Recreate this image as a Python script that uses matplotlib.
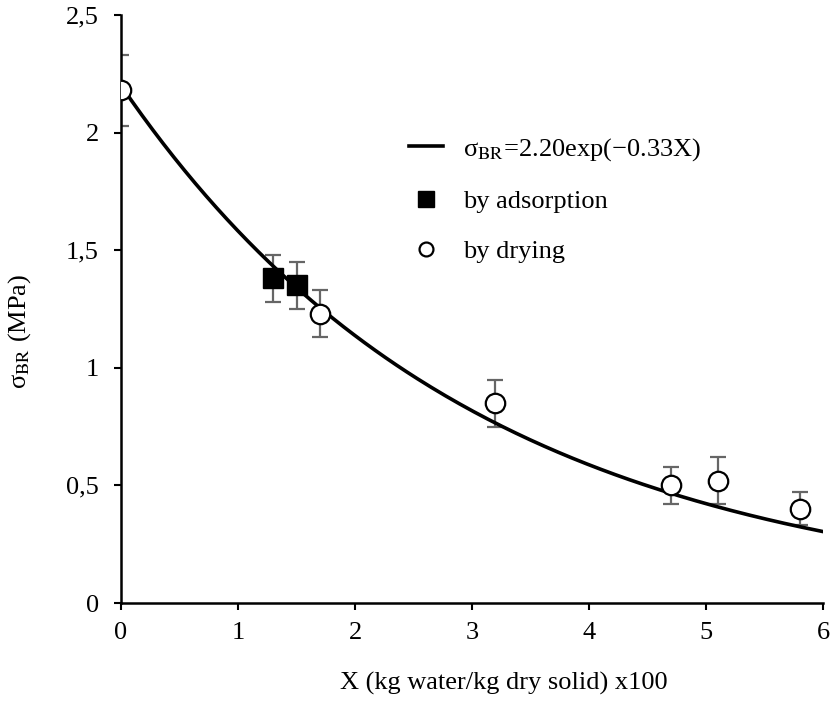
import numpy as np
import matplotlib
matplotlib.use("Agg")
import matplotlib.pyplot as plt
from matplotlib.ticker import FuncFormatter

plt.rcParams['font.family'] = ['Liberation Serif', 'DejaVu Serif']
plt.rcParams['mathtext.fontset'] = 'stix'

# dados
x_drying = [0.0, 1.7, 3.2, 4.7, 5.1, 5.8]
y_drying = [2.18, 1.23, 0.85, 0.50, 0.52, 0.40]
err_drying = [0.15, 0.10, 0.10, 0.08, 0.10, 0.07]

x_ads = [1.3, 1.5]
y_ads = [1.38, 1.35]
err_ads = [0.10, 0.10]

a_fit = 2.20
b_fit = 0.33

fig = plt.figure(figsize=(8.33, 7.03), dpi=100)
ax = fig.add_axes([0.1453, 0.1422, 0.8427, 0.8365])

xs = np.linspace(0, 6, 200)
ax.plot(xs, a_fit * np.exp(-b_fit * xs), color='black', lw=2.6, zorder=2,
        label='σ$_{\\mathrm{BR}}$=2.20exp(−0.33X)')

ax.errorbar(x_ads, y_ads, yerr=err_ads, fmt='none', ecolor='#666666',
            elinewidth=1.6, capsize=6, capthick=1.6, zorder=1)
ax.errorbar(x_drying, y_drying, yerr=err_drying, fmt='none', ecolor='#666666',
            elinewidth=1.6, capsize=6, capthick=1.6, zorder=1)

ax.plot(x_ads, y_ads, 's', color='black', markersize=14, zorder=3, label='by adsorption')
ax.plot(x_drying, y_drying, 'o', markerfacecolor='white', markeredgecolor='black',
        markeredgewidth=1.6, markersize=14, zorder=3, label='by drying')

ax.set_xlim(0, 6)
ax.set_ylim(0, 2.5)
ax.set_xticks([0, 1, 2, 3, 4, 5, 6])
ax.set_yticks([0, 0.5, 1, 1.5, 2, 2.5])
ax.yaxis.set_major_formatter(FuncFormatter(lambda v, p: ('%g' % v).replace('.', ',')))
ax.tick_params(direction='out', length=5, width=1.5, labelsize=19)
ax.tick_params(axis='x', pad=8.5)
ax.tick_params(axis='y', pad=11)

for s in ['top', 'right']:
    ax.spines[s].set_visible(False)
for s in ['left', 'bottom']:
    ax.spines[s].set_linewidth(1.8)

ax.set_xlabel('X (kg water/kg dry solid) x100', fontsize=19)
ax.set_ylabel('σ$_{\\mathrm{BR}}$ (MPa)', fontsize=19)
ax.xaxis.set_label_coords(0.5456, -0.117)
ax.yaxis.set_label_coords(-0.125, 0.4626)

leg = ax.legend(loc='upper left', bbox_to_anchor=(0.376, 0.835), frameon=False,
                fontsize=19, handlelength=1.3, handletextpad=0.75, labelspacing=1.02)
leg.legend_handles[1].set_markersize(12)
leg.legend_handles[2].set_markersize(10)

fig.savefig('out.png', dpi=100)
